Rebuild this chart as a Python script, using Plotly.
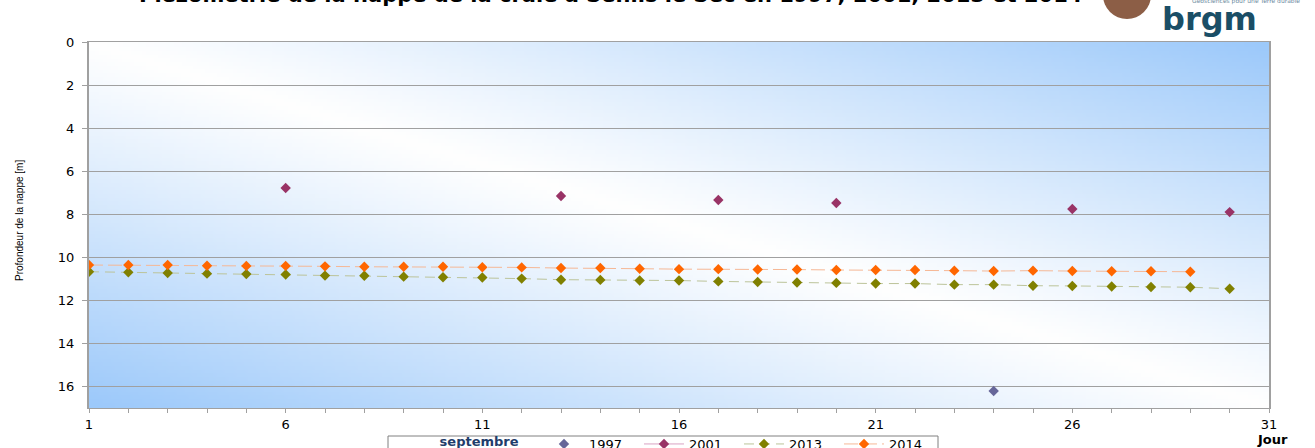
import base64
import struct
import zlib

import numpy as np
import plotly.graph_objects as go

# ---------------- data ----------------
days = list(range(1, 32))

v1997 = [None] * 23 + [16.21] + [None] * 7
v2001 = [None, None, None, None, None, 6.78, None, None, None, None, None, None, 7.15, None, None, None,
         7.34, None, None, 7.48, None, None, None, None, None, 7.76, None, None, None, 7.90, None]
v2013 = [10.67, 10.70, 10.73, 10.76, 10.78, 10.80, 10.85, 10.86, 10.90, 10.93,
         10.94, 10.99, 11.04, 11.05, 11.08, 11.08, 11.12, 11.15, 11.17, 11.19,
         11.22, 11.22, 11.27, 11.27, 11.32, 11.33, 11.36, 11.38, 11.39, 11.46, None]
v2014 = [10.36, 10.36, 10.36, 10.39, 10.40, 10.40, 10.42, 10.44, 10.44, 10.44,
         10.46, 10.47, 10.50, 10.50, 10.53, 10.55, 10.55, 10.57, 10.57, 10.59,
         10.59, 10.59, 10.62, 10.64, 10.62, 10.64, 10.65, 10.65, 10.67, None, None]

x_tick_vals = days
x_tick_text = [str(d) if (d - 1) % 5 == 0 else "" for d in days]
y_tick_vals = [0, 2, 4, 6, 8, 10, 12, 14, 16]

title_text = "Piézomètrie de la nappe de la craie à Senlis le Sec en 1997, 2001, 2013 et 2014"
y_title = "Profondeur de la nappe [m]"
legend_title = "septembre"

# ---------------- geometry ----------------
W, H = 1315, 448
PLOT_L, PLOT_T, PLOT_W, PLOT_H = 89, 42, 1180, 366
ML, MT = PLOT_L, PLOT_T
MR = W - ML - PLOT_W
MB = H - MT - PLOT_H


def px_x(px):
    return (px - ML) / PLOT_W


def px_y(py):
    return (MT + PLOT_H - py) / PLOT_H


# ---------------- gradient background (png) ----------------
def make_png(arr):
    h, w, _ = arr.shape
    raw = b"".join(b"\x00" + arr[i].tobytes() for i in range(h))

    def chunk(tag, data):
        c = struct.pack(">I", len(data)) + tag + data
        return c + struct.pack(">I", zlib.crc32(tag + data) & 0xFFFFFFFF)

    png = b"\x89PNG\r\n\x1a\n"
    png += chunk(b"IHDR", struct.pack(">IIBBBBB", w, h, 8, 2, 0, 0, 0))
    png += chunk(b"IDAT", zlib.compress(raw, 9))
    png += chunk(b"IEND", b"")
    return "data:image/png;base64," + base64.b64encode(png).decode()


gw, gh = 300, 100
uu, vv = np.meshgrid(np.linspace(0, 1, gw), np.linspace(0, 1, gh))
t = np.clip(np.abs(uu - vv), 0, 1) ** 1.1
white = np.array([255, 255, 255], float)
blue = np.array([156, 201, 250], float)
img = (white[None, None, :] * (1 - t[..., None]) + blue[None, None, :] * t[..., None]).astype(np.uint8)
bg_uri = make_png(img)

# ---------------- figure ----------------
fig = go.Figure()

fig.add_trace(go.Scatter(
    x=days, y=v1997, name="1997", mode="markers",
    marker=dict(symbol="diamond", size=8, color="#666699"),
))
fig.add_trace(go.Scatter(
    x=days, y=v2001, name="2001", mode="lines+markers", connectgaps=False,
    line=dict(color="#d9a3c3", width=1),
    marker=dict(symbol="diamond", size=8, color="#993366"),
))
fig.add_trace(go.Scatter(
    x=days, y=v2013, name="2013", mode="lines+markers",
    line=dict(color="#bcc49a", width=1, dash="10px,6px"),
    marker=dict(symbol="diamond", size=8, color="#808000"),
))
fig.add_trace(go.Scatter(
    x=days, y=v2014, name="2014", mode="lines+markers",
    line=dict(color="#f6b896", width=1, dash="14px,5px"),
    marker=dict(symbol="diamond", size=8, color="#FF6600"),
))

axis_font = dict(family="DejaVu Sans, Arial, sans-serif", size=13, color="#000000")
pad_left = "&nbsp;" * 12
pad_right = "&nbsp;" * 3

fig.update_layout(
    width=W, height=H,
    margin=dict(l=ML, r=MR, t=MT, b=MB, autoexpand=False),
    paper_bgcolor="#ffffff",
    plot_bgcolor="rgba(0,0,0,0)",
    showlegend=True,
    legend=dict(
        orientation="h",
        x=px_x(388), xanchor="left",
        y=px_y(429), yanchor="top",
        bgcolor="rgba(0,0,0,0)",
        borderwidth=0,
        font=dict(family="DejaVu Sans, Arial, sans-serif", size=13, color="#000000"),
        title=dict(text=pad_left + "<b>" + legend_title + "</b>" + pad_right, side="left",
                   font=dict(family="DejaVu Sans, Arial, sans-serif", size=13, color="#1f3d6b")),
        itemwidth=40,
        entrywidth=45,
        tracegroupgap=0,
    ),
    xaxis=dict(
        range=[1, 31],
        tickmode="array", tickvals=x_tick_vals, ticktext=x_tick_text,
        ticks="outside", ticklen=4, tickcolor="#a0a0a0",
        showgrid=False, zeroline=False,
        showline=True, linecolor="#a0a0a0", linewidth=1, mirror=True,
        tickfont=axis_font,
    ),
    yaxis=dict(
        range=[17, 0],
        tickmode="array", tickvals=y_tick_vals,
        ticks="outside", ticklen=5, tickcolor="#a0a0a0",
        ticklabelstandoff=5,
        showgrid=True, gridcolor="#a0a0a0", gridwidth=1,
        zeroline=False,
        showline=True, linecolor="#a0a0a0", linewidth=2, mirror=True,
        tickfont=axis_font,
    ),
    images=[dict(
        source=bg_uri, xref="paper", yref="paper", x=0, y=1, sizex=1, sizey=1,
        xanchor="left", yanchor="top", sizing="stretch", layer="below",
    )],
)

# legend frame (the legend itself is drawn transparent on top)
fig.add_shape(
    type="rect", xref="paper", yref="paper",
    x0=px_x(388), x1=px_x(938), y0=px_y(436), y1=px_y(470),
    fillcolor="#ffffff", line=dict(color="#808080", width=1), layer="above",
)

# title (cut at the top of the image, as in the reference)
fig.add_annotation(
    text="<b>" + title_text + "</b>", xref="paper", yref="paper",
    x=px_x(610), y=px_y(-5), xanchor="center", yanchor="middle", showarrow=False,
    font=dict(family="DejaVu Sans, Arial, sans-serif", size=21, color="#000000"),
)

# y axis title
fig.add_annotation(
    text=y_title, xref="paper", yref="paper",
    x=px_x(19), y=px_y(221), xanchor="center", yanchor="middle", showarrow=False,
    textangle=-90,
    font=dict(family="Liberation Sans Narrow, Arial Narrow, Liberation Sans, sans-serif", size=10,
              color="#000000"),
)

# x axis title
fig.add_annotation(
    text="<b>Jour</b>", xref="paper", yref="paper",
    x=px_x(1272), y=px_y(439), xanchor="center", yanchor="middle", showarrow=False,
    font=dict(family="DejaVu Sans, Arial, sans-serif", size=13, color="#000000"),
)

# brgm logo
fig.add_shape(
    type="circle", xref="paper", yref="paper",
    x0=px_x(1103), x1=px_x(1151), y0=px_y(19), y1=px_y(-29),
    fillcolor="#8c5e46", line=dict(width=0), layer="above",
)
fig.add_annotation(
    text="<b>brgm</b>", xref="paper", yref="paper",
    x=px_x(1209), y=px_y(19), xanchor="center", yanchor="middle", showarrow=False,
    font=dict(family="DejaVu Sans, Arial, sans-serif", size=32, color="#1a4e66"),
)
fig.add_annotation(
    text="Géosciences pour une Terre durable", xref="paper", yref="paper",
    x=px_x(1246), y=px_y(1), xanchor="center", yanchor="middle", showarrow=False,
    font=dict(family="DejaVu Sans, Arial, sans-serif", size=6, color="#6a8aa0"),
)

fig.write_html("out.html", config={"displayModeBar": False},
               post_script="document.body.style.margin='0';")
